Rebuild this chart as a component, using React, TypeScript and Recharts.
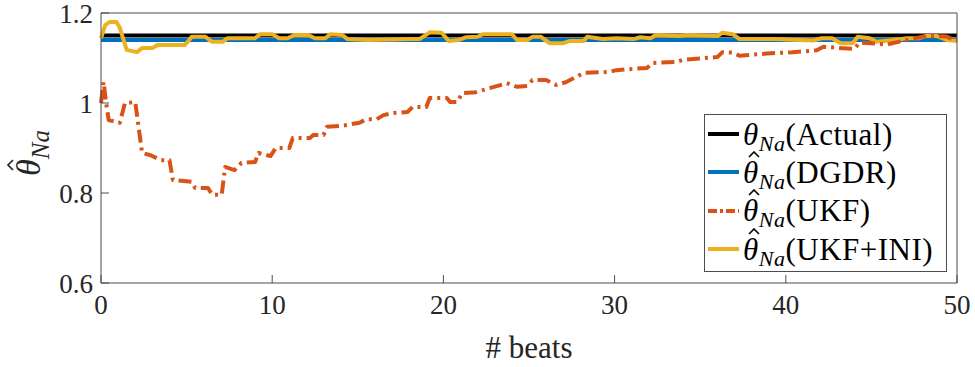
import React from 'react';
import { LineChart, Line, XAxis, YAxis, Legend } from 'recharts';

// beat axis and y axis ticks
const beatTicks = [0, 10, 20, 30, 40, 50];
const thetaTicks = [0.6, 0.8, 1, 1.2];

// constant references
const actualValue = 1.15;
const dgdrValue = 1.14;

// UKF estimate (dash-dot)
const ukfBeats = [
  0, 0.15, 0.3, 0.45, 1.1, 1.4, 2.0, 2.4, 2.9, 3.5, 4.0, 4.2, 5.3, 5.5, 6.25, 6.5, 7.05, 7.25, 7.8, 8.2,
  9.0, 9.2, 9.9, 10.2, 11.0, 11.2, 12.2, 12.4, 13.0, 13.2, 14.0, 15.1, 15.5, 16.1, 16.5, 17.1, 17.9, 18.2,
  19.0, 19.2, 20.2, 20.4, 20.8, 21.1, 21.9, 22.7, 23.7, 24.3, 24.9, 25.2, 26.0, 26.6, 27.2, 28.2, 29.7,
  30.1, 31.9, 32.2, 33.6, 34.0, 35.0, 36.0, 36.3, 36.9, 37.3, 38.9, 40.4, 41.8, 42.2, 44.0, 44.3, 45.2,
  45.9, 46.7, 48.2, 49.4, 49.8, 50,
];
const ukfValues = [
  1.0, 1.047, 1.0, 0.962, 0.956, 1.0, 1.002, 0.889, 0.884, 0.873, 0.873, 0.829, 0.825, 0.811, 0.811, 0.796,
  0.796, 0.858, 0.851, 0.867, 0.869, 0.889, 0.882, 0.9, 0.9, 0.922, 0.922, 0.929, 0.929, 0.947, 0.949, 0.956,
  0.964, 0.964, 0.973, 0.978, 0.98, 0.991, 0.991, 1.011, 1.011, 1.002, 1.002, 1.022, 1.024, 1.033, 1.044,
  1.036, 1.038, 1.051, 1.051, 1.04, 1.047, 1.067, 1.069, 1.073, 1.078, 1.089, 1.091, 1.096, 1.099, 1.102,
  1.113, 1.112, 1.105, 1.11, 1.113, 1.117, 1.125, 1.12, 1.134, 1.132, 1.13, 1.137, 1.149, 1.148, 1.14, 1.14,
];

// UKF+INI estimate
const iniBeats = [
  0, 0.25, 0.5, 0.9, 1.1, 1.5, 2.1, 2.4, 3.0, 3.3, 4.9, 5.3, 6.1, 6.5, 7.1, 7.4, 9.0, 9.3, 10.0, 10.4, 10.9,
  11.3, 12.1, 12.5, 13.1, 13.4, 14.1, 14.4, 15.6, 18.2, 18.6, 19.2, 19.9, 20.3, 20.9, 21.3, 22.0, 22.3, 24.0,
  24.3, 24.9, 25.2, 25.7, 26.2, 27.0, 27.4, 28.2, 28.4, 29.3, 30.1, 31.1, 31.5, 32.1, 32.4, 33.8, 34.2, 36.0,
  36.3, 36.9, 37.3, 39.3, 40.8, 41.6, 42.1, 42.7, 43.2, 43.9, 44.2, 44.9, 45.3, 46.3, 47.1, 47.8, 48.2, 48.8,
  49.4, 50,
];
const iniValues = [
  1.144, 1.173, 1.18, 1.18, 1.167, 1.118, 1.113, 1.122, 1.122, 1.129, 1.129, 1.147, 1.147, 1.136, 1.136, 1.144,
  1.144, 1.153, 1.153, 1.144, 1.144, 1.151, 1.151, 1.144, 1.144, 1.153, 1.151, 1.142, 1.14, 1.142, 1.142, 1.157,
  1.156, 1.138, 1.14, 1.146, 1.147, 1.153, 1.153, 1.14, 1.14, 1.147, 1.147, 1.133, 1.133, 1.138, 1.138, 1.147,
  1.142, 1.144, 1.142, 1.146, 1.144, 1.151, 1.149, 1.151, 1.149, 1.156, 1.153, 1.142, 1.142, 1.14, 1.139, 1.144,
  1.144, 1.133, 1.133, 1.147, 1.144, 1.136, 1.14, 1.144, 1.144, 1.149, 1.149, 1.14, 1.138,
];

const seriesLabels = ['Actual', 'DGDR', 'UKF', 'UKF+INI'];

const toPoints = (xs: number[], ys: number[]) => xs.map((x, i) => ({ x, y: ys[i] }));
const actualData = toPoints([0, 50], [actualValue, actualValue]);
const dgdrData = toPoints([0, 50], [dgdrValue, dgdrValue]);
const ukfData = toPoints(ukfBeats, ukfValues);
const iniData = toPoints(iniBeats, iniValues);

const FONT = '"Liberation Serif", "Times New Roman", Times, "DejaVu Serif", "Noto Serif", serif';
const AXIS = '#4d4d4d';
const TEXT = '#262626';
const UKF_DASH = '13 5 3 5';

const legendStyles = [
  { color: '#000000', hat: false, dash: undefined },
  { color: '#0072BD', hat: true, dash: undefined },
  { color: '#D95319', hat: true, dash: '9 3 3 3' },
  { color: '#EDB120', hat: true, dash: undefined },
];

// hat drawn as a small chevron so it does not depend on font support
const Theta = ({ hat }: { hat: boolean }) => (
  <span style={{ position: 'relative', fontStyle: 'italic', display: 'inline-block' }}>
    θ
    {hat && (
      <svg width={12} height={7} style={{ position: 'absolute', left: 5, top: -6 }}>
        <polyline points="1,6 6,1 11,6" fill="none" stroke="#000" strokeWidth={1.6} />
      </svg>
    )}
  </span>
);

const LegendBox = () => (
  <div
    style={{
      width: 243,
      height: 158,
      boxSizing: 'border-box',
      border: `1px solid ${AXIS}`,
      background: '#fff',
      fontFamily: FONT,
      fontSize: 31,
      color: '#000',
    }}
  >
    {seriesLabels.map((label, i) => (
      <div key={label} style={{ height: 38.3, display: 'flex', alignItems: 'center', whiteSpace: 'nowrap' }}>
        <svg width={38} height={10} style={{ flex: 'none' }}>
          <line x1={3} y1={5} x2={34} y2={5} stroke={legendStyles[i].color} strokeWidth={4}
            strokeDasharray={legendStyles[i].dash} />
        </svg>
        <span style={{ lineHeight: 1, letterSpacing: 0.5 }}>
          <Theta hat={legendStyles[i].hat} />
          <span style={{ fontStyle: 'italic', fontSize: 22, position: 'relative', top: 6 }}>Na</span>
          <span>({label})</span>
        </span>
      </div>
    ))}
  </div>
);

const YLabel = () => (
  <g transform="translate(40,176) rotate(-90)">
    <text x={0} y={0} fontFamily={FONT} fontSize={34} fill={TEXT}>
      <tspan fontStyle="italic">θ</tspan>
      <tspan fontStyle="italic" fontSize={25} dy={9}>Na</tspan>
    </text>
    <polyline points="6,-27 11,-32 16,-27" fill="none" stroke={TEXT} strokeWidth={1.7} />
  </g>
);

export default function App() {
  return (
    <div style={{ position: 'absolute', left: 0, top: 0, width: 975, height: 367, background: '#fff' }}>
      <LineChart width={975} height={367} margin={{ top: 0, right: 0, bottom: 0, left: 0 }}>
        <XAxis
          xAxisId={0}
          dataKey="x"
          type="number"
          domain={[0, 50]}
          ticks={beatTicks}
          interval={0}
          height={84}
          tickSize={-8}
          tickMargin={20}
          stroke={AXIS}
          tick={{ fill: TEXT, fontFamily: FONT, fontSize: 27 }}
          label={{ value: '# beats', position: 'insideBottom', offset: 9, fill: TEXT, fontFamily: FONT, fontSize: 31 }}
        />
        <XAxis
          xAxisId="top"
          orientation="top"
          dataKey="x"
          type="number"
          domain={[0, 50]}
          ticks={beatTicks}
          interval={0}
          height={13}
          tickSize={-8}
          stroke={AXIS}
          tick={false}
        />
        <YAxis
          yAxisId={0}
          type="number"
          domain={[0.6, 1.2]}
          ticks={thetaTicks}
          interval={0}
          width={101}
          tickSize={-8}
          tickMargin={16}
          stroke={AXIS}
          tick={{ fill: TEXT, fontFamily: FONT, fontSize: 27 }}
          label={<YLabel />}
        />
        <YAxis
          yAxisId="right"
          orientation="right"
          type="number"
          domain={[0.6, 1.2]}
          ticks={thetaTicks}
          interval={0}
          width={18}
          tickSize={-8}
          stroke={AXIS}
          tick={false}
        />
        <Legend
          layout="horizontal"
          verticalAlign="middle"
          align="center"
          content={() => <LegendBox />}
          wrapperStyle={{ position: 'absolute', left: 704, top: 114, width: 243, height: 158 }}
        />
        <Line data={actualData} dataKey="y" name="Actual" stroke="#000000" strokeWidth={4} dot={false}
          isAnimationActive={false} />
        <Line data={dgdrData} dataKey="y" name="DGDR" stroke="#0072BD" strokeWidth={4} dot={false}
          isAnimationActive={false} />
        <Line data={iniData} dataKey="y" name="UKF+INI" stroke="#EDB120" strokeWidth={4} dot={false}
          strokeLinejoin="round" isAnimationActive={false} />
        <Line data={ukfData} dataKey="y" name="UKF" stroke="#D95319" strokeWidth={4} dot={false}
          strokeDasharray={UKF_DASH} strokeLinejoin="round" isAnimationActive={false} />
      </LineChart>
    </div>
  );
}
